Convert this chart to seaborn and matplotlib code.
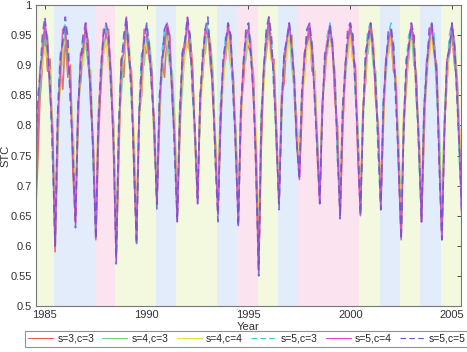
import numpy as np
import pandas as pd
import matplotlib
matplotlib.use("Agg")
import matplotlib.pyplot as plt
from matplotlib.lines import Line2D
import seaborn as sns

# Zeitachse: 8 Werte pro Jahr, Beginn am Sommer-Minimum 1984
years = np.arange(1984.5, 2005.51, 0.125)

# STC-Werte je Modell (pro Zeile ein Zyklus: Minimum, dann 7 Werte bis zum naechsten Minimum)
stc_s3c3 = [
    0.62, 0.72, 0.84, 0.90, 0.96, 0.89, 0.91, 0.78,
    0.59, 0.76, 0.90, 0.86, 0.95, 0.88, 0.90, 0.72,
    0.64, 0.84, 0.87, 0.93, 0.96, 0.94, 0.83, 0.77,
    0.61, 0.77, 0.88, 0.92, 0.95, 0.96, 0.86, 0.80,
    0.58, 0.74, 0.91, 0.88, 0.97, 0.91, 0.89, 0.72,
    0.61, 0.82, 0.85, 0.94, 0.92, 0.93, 0.86, 0.81,
    0.67, 0.80, 0.91, 0.88, 0.96, 0.95, 0.84, 0.78,
    0.65, 0.78, 0.92, 0.94, 0.93, 0.95, 0.90, 0.77,
    0.68, 0.85, 0.88, 0.95, 0.96, 0.90, 0.87, 0.74,
    0.66, 0.79, 0.89, 0.91, 0.96, 0.95, 0.85, 0.79,
    0.64, 0.83, 0.87, 0.94, 0.93, 0.92, 0.88, 0.71,
    0.56, 0.76, 0.89, 0.92, 0.97, 0.91, 0.91, 0.80,
    0.67, 0.85, 0.87, 0.94, 0.94, 0.95, 0.85, 0.77,
    0.72, 0.82, 0.92, 0.93, 0.96, 0.89, 0.89, 0.75,
    0.68, 0.84, 0.88, 0.94, 0.95, 0.93, 0.84, 0.80,
    0.65, 0.79, 0.89, 0.92, 0.96, 0.91, 0.90, 0.75,
    0.66, 0.83, 0.87, 0.95, 0.97, 0.94, 0.84, 0.80,
    0.67, 0.80, 0.91, 0.92, 0.95, 0.89, 0.88, 0.73,
    0.62, 0.81, 0.86, 0.93, 0.96, 0.95, 0.84, 0.79,
    0.64, 0.78, 0.90, 0.92, 0.96, 0.92, 0.90, 0.74,
    0.62, 0.80, 0.87, 0.94, 0.95, 0.90, 0.88, 0.78,
    0.63,
]
stc_s4c3 = [
    0.70, 0.81, 0.85, 0.92, 0.94, 0.95, 0.85, 0.81,
    0.63, 0.77, 0.91, 0.90, 0.96, 0.90, 0.87, 0.79,
    0.67, 0.80, 0.90, 0.91, 0.94, 0.90, 0.89, 0.73,
    0.64, 0.82, 0.86, 0.94, 0.93, 0.94, 0.85, 0.80,
    0.61, 0.80, 0.85, 0.92, 0.96, 0.95, 0.84, 0.78,
    0.64, 0.79, 0.91, 0.90, 0.95, 0.94, 0.90, 0.76,
    0.70, 0.84, 0.88, 0.95, 0.93, 0.90, 0.89, 0.81,
    0.67, 0.80, 0.86, 0.93, 0.96, 0.95, 0.85, 0.79,
    0.70, 0.82, 0.91, 0.92, 0.96, 0.94, 0.89, 0.76,
    0.68, 0.82, 0.87, 0.93, 0.94, 0.90, 0.88, 0.79,
    0.67, 0.80, 0.90, 0.91, 0.96, 0.94, 0.84, 0.77,
    0.60, 0.82, 0.87, 0.93, 0.95, 0.92, 0.89, 0.76,
    0.69, 0.80, 0.92, 0.93, 0.96, 0.90, 0.86, 0.81,
    0.74, 0.86, 0.88, 0.94, 0.94, 0.94, 0.88, 0.79,
    0.70, 0.81, 0.91, 0.92, 0.96, 0.92, 0.89, 0.75,
    0.68, 0.83, 0.87, 0.93, 0.95, 0.95, 0.85, 0.80,
    0.68, 0.80, 0.91, 0.92, 0.96, 0.90, 0.89, 0.77,
    0.69, 0.83, 0.88, 0.94, 0.94, 0.94, 0.84, 0.78,
    0.65, 0.78, 0.89, 0.91, 0.96, 0.90, 0.89, 0.75,
    0.67, 0.83, 0.87, 0.94, 0.95, 0.94, 0.85, 0.79,
    0.65, 0.81, 0.90, 0.92, 0.96, 0.94, 0.88, 0.74,
    0.66,
]
stc_s4c4 = [
    0.74, 0.78, 0.88, 0.90, 0.93, 0.91, 0.89, 0.77,
    0.65, 0.80, 0.86, 0.93, 0.94, 0.94, 0.85, 0.80,
    0.69, 0.79, 0.91, 0.90, 0.95, 0.91, 0.88, 0.75,
    0.66, 0.83, 0.88, 0.92, 0.94, 0.90, 0.89, 0.79,
    0.63, 0.77, 0.90, 0.91, 0.94, 0.94, 0.86, 0.79,
    0.66, 0.81, 0.86, 0.94, 0.93, 0.91, 0.88, 0.77,
    0.71, 0.81, 0.90, 0.92, 0.95, 0.94, 0.85, 0.80,
    0.68, 0.83, 0.88, 0.91, 0.94, 0.92, 0.89, 0.77,
    0.71, 0.81, 0.89, 0.95, 0.94, 0.94, 0.85, 0.79,
    0.69, 0.83, 0.86, 0.92, 0.95, 0.91, 0.88, 0.75,
    0.68, 0.79, 0.90, 0.93, 0.94, 0.93, 0.85, 0.78,
    0.62, 0.81, 0.86, 0.94, 0.94, 0.91, 0.90, 0.77,
    0.70, 0.82, 0.91, 0.91, 0.95, 0.94, 0.86, 0.80,
    0.75, 0.84, 0.88, 0.93, 0.94, 0.90, 0.89, 0.76,
    0.71, 0.83, 0.89, 0.94, 0.93, 0.94, 0.85, 0.79,
    0.69, 0.80, 0.90, 0.91, 0.95, 0.91, 0.89, 0.77,
    0.69, 0.83, 0.88, 0.94, 0.94, 0.94, 0.85, 0.78,
    0.70, 0.80, 0.90, 0.92, 0.95, 0.90, 0.88, 0.75,
    0.66, 0.82, 0.87, 0.93, 0.94, 0.94, 0.86, 0.79,
    0.68, 0.79, 0.90, 0.91, 0.95, 0.91, 0.89, 0.76,
    0.66, 0.81, 0.87, 0.94, 0.93, 0.93, 0.85, 0.79,
    0.67,
]
stc_s5c3 = [
    0.66, 0.82, 0.87, 0.94, 0.96, 0.92, 0.87, 0.75,
    0.61, 0.81, 0.92, 0.93, 0.97, 0.95, 0.84, 0.77,
    0.65, 0.82, 0.91, 0.95, 0.95, 0.90, 0.87, 0.74,
    0.62, 0.79, 0.90, 0.94, 0.97, 0.93, 0.88, 0.75,
    0.59, 0.80, 0.89, 0.95, 0.96, 0.92, 0.84, 0.76,
    0.62, 0.83, 0.92, 0.94, 0.97, 0.93, 0.86, 0.79,
    0.68, 0.82, 0.92, 0.96, 0.96, 0.91, 0.87, 0.75,
    0.65, 0.84, 0.89, 0.94, 0.97, 0.95, 0.86, 0.77,
    0.68, 0.83, 0.93, 0.94, 0.97, 0.92, 0.87, 0.74,
    0.66, 0.84, 0.89, 0.95, 0.95, 0.95, 0.85, 0.77,
    0.65, 0.81, 0.91, 0.94, 0.97, 0.91, 0.86, 0.73,
    0.58, 0.82, 0.89, 0.96, 0.96, 0.95, 0.86, 0.78,
    0.67, 0.83, 0.92, 0.94, 0.97, 0.93, 0.88, 0.76,
    0.73, 0.86, 0.91, 0.96, 0.96, 0.93, 0.85, 0.77,
    0.68, 0.82, 0.91, 0.95, 0.97, 0.93, 0.87, 0.74,
    0.66, 0.83, 0.90, 0.94, 0.96, 0.95, 0.86, 0.78,
    0.66, 0.81, 0.92, 0.96, 0.97, 0.92, 0.87, 0.75,
    0.67, 0.84, 0.90, 0.95, 0.97, 0.93, 0.84, 0.75,
    0.62, 0.81, 0.90, 0.95, 0.96, 0.93, 0.87, 0.74,
    0.65, 0.83, 0.91, 0.94, 0.97, 0.95, 0.86, 0.76,
    0.62, 0.81, 0.89, 0.95, 0.97, 0.91, 0.86, 0.73,
    0.64,
]
stc_s5c4 = [
    0.63, 0.76, 0.89, 0.92, 0.97, 0.94, 0.85, 0.79,
    0.60, 0.81, 0.88, 0.96, 0.96, 0.91, 0.87, 0.74,
    0.64, 0.81, 0.92, 0.92, 0.97, 0.93, 0.84, 0.76,
    0.62, 0.80, 0.87, 0.96, 0.95, 0.94, 0.89, 0.75,
    0.58, 0.77, 0.91, 0.92, 0.98, 0.92, 0.87, 0.74,
    0.61, 0.82, 0.88, 0.96, 0.95, 0.91, 0.89, 0.78,
    0.67, 0.83, 0.91, 0.93, 0.97, 0.95, 0.85, 0.78,
    0.64, 0.81, 0.91, 0.93, 0.98, 0.92, 0.89, 0.78,
    0.67, 0.84, 0.91, 0.96, 0.95, 0.93, 0.84, 0.77,
    0.65, 0.81, 0.90, 0.93, 0.97, 0.93, 0.88, 0.75,
    0.64, 0.82, 0.90, 0.95, 0.96, 0.92, 0.84, 0.75,
    0.56, 0.78, 0.90, 0.94, 0.98, 0.92, 0.89, 0.77,
    0.67, 0.83, 0.91, 0.94, 0.97, 0.93, 0.88, 0.77,
    0.71, 0.84, 0.92, 0.94, 0.97, 0.92, 0.85, 0.77,
    0.67, 0.83, 0.90, 0.94, 0.96, 0.94, 0.85, 0.78,
    0.65, 0.80, 0.90, 0.94, 0.97, 0.93, 0.89, 0.75,
    0.65, 0.82, 0.90, 0.95, 0.96, 0.93, 0.85, 0.79,
    0.66, 0.82, 0.91, 0.94, 0.96, 0.91, 0.86, 0.73,
    0.61, 0.80, 0.89, 0.93, 0.97, 0.93, 0.87, 0.76,
    0.64, 0.81, 0.90, 0.94, 0.97, 0.92, 0.89, 0.74,
    0.61, 0.78, 0.91, 0.92, 0.97, 0.93, 0.85, 0.76,
    0.63,
]
stc_s5c5 = [
    0.65, 0.84, 0.88, 0.95, 0.98, 0.93, 0.87, 0.75,
    0.60, 0.82, 0.91, 0.94, 0.98, 0.94, 0.84, 0.75,
    0.63, 0.83, 0.90, 0.95, 0.97, 0.91, 0.86, 0.74,
    0.61, 0.81, 0.90, 0.95, 0.97, 0.95, 0.86, 0.77,
    0.57, 0.80, 0.90, 0.95, 0.98, 0.92, 0.86, 0.73,
    0.60, 0.81, 0.91, 0.94, 0.97, 0.93, 0.86, 0.79,
    0.66, 0.85, 0.90, 0.96, 0.97, 0.92, 0.86, 0.75,
    0.64, 0.82, 0.92, 0.94, 0.98, 0.95, 0.86, 0.79,
    0.67, 0.85, 0.91, 0.96, 0.98, 0.92, 0.86, 0.74,
    0.64, 0.81, 0.91, 0.94, 0.97, 0.95, 0.85, 0.76,
    0.63, 0.83, 0.90, 0.96, 0.97, 0.91, 0.85, 0.72,
    0.55, 0.81, 0.89, 0.96, 0.98, 0.95, 0.86, 0.78,
    0.66, 0.83, 0.92, 0.94, 0.97, 0.93, 0.87, 0.77,
    0.71, 0.86, 0.91, 0.96, 0.97, 0.93, 0.84, 0.76,
    0.67, 0.82, 0.92, 0.93, 0.97, 0.93, 0.87, 0.75,
    0.645, 0.83, 0.89, 0.96, 0.97, 0.95, 0.86, 0.77,
    0.65, 0.81, 0.92, 0.94, 0.97, 0.92, 0.87, 0.76,
    0.66, 0.84, 0.90, 0.96, 0.96, 0.93, 0.83, 0.74,
    0.61, 0.79, 0.91, 0.93, 0.97, 0.95, 0.85, 0.77,
    0.64, 0.83, 0.89, 0.96, 0.97, 0.93, 0.88, 0.73,
    0.61, 0.79, 0.91, 0.93, 0.97, 0.93, 0.84, 0.75,
    0.63,
]

labels = ["s=3,c=3", "s=4,c=3", "s=4,c=4", "s=5,c=3", "s=5,c=4", "s=5,c=5"]
series = [stc_s3c3, stc_s4c3, stc_s4c4, stc_s5c3, stc_s5c4, stc_s5c5]

# Hintergrund-Perioden (Beginn, Ende, Typ)
band_start = [1984.45, 1985.45, 1987.45, 1988.45, 1990.45, 1991.45, 1993.45, 1994.45,
              1995.45, 1996.45, 1997.45, 2000.45, 2001.45, 2002.45, 2003.45, 2004.45]
band_end = band_start[1:] + [2005.6]
band_type = ["g", "b", "p", "g", "b", "g", "b", "p",
             "g", "b", "p", "g", "b", "g", "b", "g"]
band_colors = {"g": "#f2f9de", "b": "#e3ecfa", "p": "#fbe3f0"}

line_colors = {"s=3,c=3": "#e0604f", "s=4,c=3": "#7ccf86", "s=4,c=4": "#f0dc40",
               "s=5,c=3": "#35cfd8", "s=5,c=4": "#e048c8", "s=5,c=5": "#6a52d6"}
line_dashes = {"s=3,c=3": "", "s=4,c=3": "", "s=4,c=4": "",
               "s=5,c=3": (5, 3), "s=5,c=4": "", "s=5,c=5": (5, 3)}

df = pd.concat([pd.DataFrame({"Year": years, "STC": v, "Modell": l})
                for l, v in zip(labels, series)], ignore_index=True)

sns.set_theme(style="white")
plt.rcParams["font.family"] = ["Liberation Sans", "DejaVu Sans"]

fig = plt.figure(figsize=(4.67, 3.52), dpi=100)
ax = fig.add_axes([36 / 467, 46 / 352, 425 / 467, 301 / 352])

for s, e, t in zip(band_start, band_end, band_type):
    ax.axvspan(s, e, color=band_colors[t], lw=0, zorder=0)

sns.lineplot(data=df, x="Year", y="STC", hue="Modell", style="Modell",
             palette=line_colors, dashes=line_dashes, hue_order=labels,
             style_order=labels, lw=1.2, alpha=0.85, ax=ax, legend=False, zorder=2)

ax.set_xlim(1984.56, 2005.44)
ax.set_ylim(0.5, 1.0)
ax.set_xticks([1985, 1990, 1995, 2000, 2005])
ax.set_yticks(np.arange(0.5, 1.001, 0.05))
ax.set_yticklabels([f"{v:g}" for v in np.round(np.arange(0.5, 1.001, 0.05), 2)])
ax.tick_params(direction="in", length=3, width=0.6, labelsize=8, colors="#333333",
               top=True, right=True, pad=3)
for sp in ax.spines.values():
    sp.set_color("#777777")
    sp.set_linewidth(0.8)
ax.set_xlabel("Year", fontsize=8, labelpad=1, color="#333333")
ax.set_ylabel("STC", fontsize=8, labelpad=0, color="#333333")

handles = [Line2D([], [], color=line_colors[l], lw=0.8,
                  linestyle="-" if line_dashes[l] == "" else (0, line_dashes[l]))
           for l in labels]
leg = fig.legend(handles, labels, ncol=6, loc="lower center",
                 bbox_to_anchor=(0.529, 0.0), fontsize=7.5, frameon=True,
                 fancybox=False, edgecolor="#777777", handlelength=2.4,
                 handletextpad=0.4, columnspacing=0.8, borderpad=0.3)
leg.get_frame().set_linewidth(0.8)

fig.savefig("out.png", dpi=100)
